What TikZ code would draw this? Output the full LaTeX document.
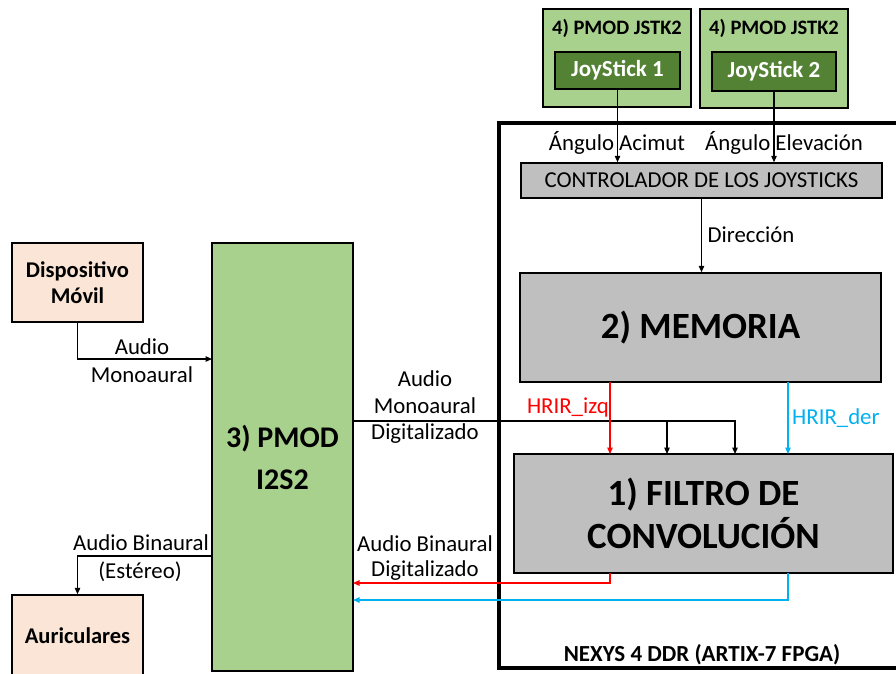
\documentclass[tikz,border=0pt]{standalone}
\usepackage{fontspec}
\setmainfont{Carlito}
\usetikzlibrary{arrows.meta,calc}
\definecolor{lgreen}{HTML}{A9D18E}
\definecolor{dgreen}{HTML}{548235}
\definecolor{peach}{HTML}{FBE5D6}
\definecolor{boxgray}{HTML}{BFBFBF}
\definecolor{hblue}{HTML}{00B0F0}
\definecolor{hred}{HTML}{FF0000}
\newcommand{\fsz}[1]{\fontsize{#1}{#1}\selectfont}
\tikzset{
  box/.style={draw=black, line width=1.5pt, inner sep=0pt, align=center},
  arr/.style={line width=1.2pt, -{Triangle[length=6.5pt,width=5.5pt]}},
  plain/.style={line width=1.2pt},
  lbl/.style={inner sep=0pt, align=center, font=\fsz{22.8}},
}
\begin{document}
\begin{tikzpicture}[x=1pt,y=-1pt]
\useasboundingbox (0,0) rectangle (896,673);
\clip (0,0) rectangle (896,673);

% FPGA board outline
\draw[line width=4.5pt] (905,123) -- (499,123) -- (499,668) -- (905,668);
\node[lbl, font=\fsz{23}\bfseries] (nexys) at (702,655) {NEXYS 4 DDR (ARTIX-7 FPGA)};

% Joystick modules
\node[box, fill=lgreen, minimum width=148pt, minimum height=98pt] (jb1) at (617,58) {};
\node[lbl, font=\fsz{20.5}\bfseries] (jt1) at (617,28) {4) PMOD JSTK2};
\node[box, fill=dgreen, text=white, font=\fsz{23}\bfseries, minimum width=125pt, minimum height=37pt] (js1) at (617.5,70.5) {JoyStick 1};
\node[box, fill=lgreen, minimum width=148pt, minimum height=99pt] (jb2) at (774,58.5) {};
\node[lbl, font=\fsz{20.5}\bfseries] (jt2) at (774,28) {4) PMOD JSTK2};
\node[box, fill=dgreen, text=white, font=\fsz{23}\bfseries, minimum width=124pt, minimum height=39pt] (js2) at (774,71.5) {JoyStick 2};

% Controller, memory, filter
\node[box, fill=boxgray, font=\fsz{22.8}, minimum width=361pt, minimum height=35pt] (ctrl) at (701.5,180.5) {CONTROLADOR DE LOS JOYSTICKS};
\node[box, fill=boxgray, font=\fsz{37}\bfseries, minimum width=361pt, minimum height=109pt] (mem) at (700.5,327.5) {2) MEMORIA};
\node[box, fill=boxgray, font=\fsz{37}\bfseries, minimum width=379pt, minimum height=119pt] (filt) at (703.5,513.5) {1) FILTRO DE\\[6pt]CONVOLUCIÓN};

% PMOD I2S2
\node[box, fill=lgreen, font=\fsz{30}\bfseries, minimum width=141pt, minimum height=428pt] (pmod) at (282.5,457) {3) PMOD\\[12pt]I2S2};

% Devices
\node[box, fill=peach, font=\fsz{22.5}\bfseries, minimum width=131pt, minimum height=79pt] (disp) at (77.5,282.5) {Dispositivo\\[4pt]Móvil};
\node[box, fill=peach, font=\fsz{22.5}\bfseries, minimum width=131pt, minimum height=82pt] (aur) at (77.5,636) {Auriculares};

% Joystick -> controller
\draw[arr] (js1.south) -- (js1.south |- ctrl.north);
\draw[arr] (js2.south) -- (js2.south |- ctrl.north);
\node[lbl] (la1) at (617,143) {Ángulo Acimut};
\node[lbl] (la2) at (784,143) {Ángulo Elevación};

% Controller -> memory
\draw[arr] (ctrl.south) -- (ctrl.south |- mem.north);
\node[lbl] (ldir) at (751,235) {Dirección};

% Mobile -> PMOD
\coordinate (pin) at (212,359);
\draw[arr] (disp.south) |- (pin);
\node[lbl] (lau1) at (142,347) {Audio};
\node[lbl] (lau2) at (142,375) {Monoaural};

% PMOD -> headphones
\coordinate (pout) at (212,556);
\draw[arr] (pout) -| (aur.north);
\node[lbl] (lab1) at (141,543) {Audio Binaural};
\node[lbl] (lab2) at (140,572) {(Estéreo)};

% PMOD -> filter (digitised mono)
\coordinate (md) at (353,421);
\coordinate (f2) at (667,454);
\coordinate (f3) at (735,454);
\draw[arr] (md) -| (f3);
\draw[arr] (f2 |- md) -- (f2);
\node[lbl] (lmd1) at (425,379) {Audio};
\node[lbl] (lmd2) at (425,406) {Monoaural};
\node[lbl] (lmd3) at (425,434) {Digitalizado};

% HRIR
\coordinate (rtop) at (610,382);
\coordinate (rbot) at (610,454);
\coordinate (btop) at (788,382);
\coordinate (bbot) at (788,454);
\draw[arr, hred] (rtop) -- (rbot);
\draw[arr, hblue] (btop) -- (bbot);
\node[lbl, text=hred, anchor=east] (lizq) at (609,407) {HRIR\_izq};
\node[lbl, text=hblue, anchor=west] (lder) at (792,418) {HRIR\_der};

% Filter -> PMOD (binaural)
\coordinate (rs) at (610,573);
\coordinate (bs) at (788,573);
\coordinate (pr) at (353,583);
\coordinate (pb) at (353,600);
\draw[arr, hred] (rs) |- (pr);
\draw[arr, hblue] (bs) |- (pb);
\node[lbl] (lbd1) at (425,544) {Audio Binaural};
\node[lbl] (lbd2) at (425,571) {Digitalizado};
\end{tikzpicture}
\end{document}
